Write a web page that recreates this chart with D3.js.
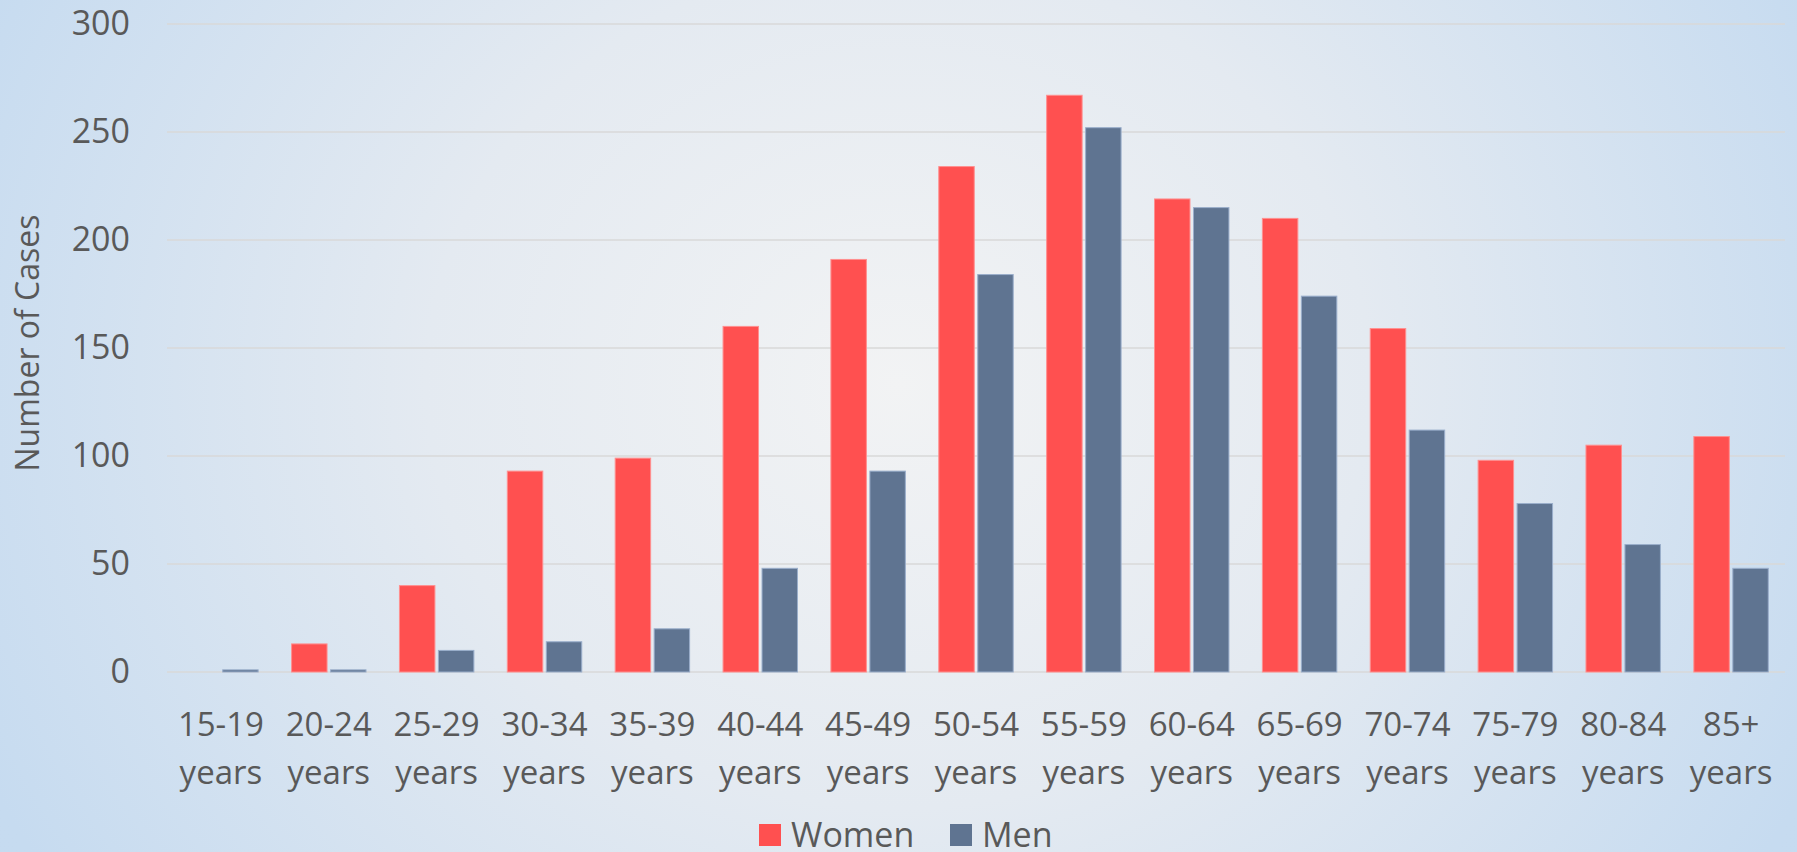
<!DOCTYPE html>
<html>
<head>
<meta charset="utf-8">
<script src="https://cdn.jsdelivr.net/npm/d3@7"></script>
<style>
  html, body { margin: 0; padding: 0; overflow: hidden; }
  svg { display: block; font-family: "Open Sans", "Noto Sans", sans-serif; }
</style>
</head>
<body>
<svg id="chart" width="1797" height="852"></svg>
<script>
// age groups on the x axis
var ageGroups = ["15-19 years", "20-24 years", "25-29 years", "30-34 years", "35-39 years",
    "40-44 years", "45-49 years", "50-54 years", "55-59 years", "60-64 years",
    "65-69 years", "70-74 years", "75-79 years", "80-84 years", "85+ years"];

// number of cases per group
var women = [0, 13, 40, 93, 99, 160, 191, 234, 267, 219, 210, 159, 98, 105, 109];
var men = [1, 1, 10, 14, 20, 48, 93, 184, 252, 215, 174, 112, 78, 59, 48];

var yTicks = [0, 50, 100, 150, 200, 250, 300];
var seriesNames = ["Women", "Men"];
var seriesColors = ["#ff5050", "#5f7491"];
var seriesStroke = ["#ff8f8f", "#9aaecb"];

var W = 1797, H = 852;
var margin = { top: 24, right: 12, bottom: 180, left: 167 };
var plotW = W - margin.left - margin.right;
var plotH = H - margin.top - margin.bottom;

var svg = d3.select("#chart");

// background gradient
var defs = svg.append("defs");
var grad = defs.append("radialGradient")
    .attr("id", "bg")
    .attr("cx", "50%").attr("cy", "45%")
    .attr("r", "75%")
    .attr("gradientTransform", "translate(0.5,0.45) scale(1,1.9) translate(-0.5,-0.45)");
grad.append("stop").attr("offset", "0%").attr("stop-color", "#f2f3f4");
grad.append("stop").attr("offset", "35%").attr("stop-color", "#e4eaf1");
grad.append("stop").attr("offset", "75%").attr("stop-color", "#c6dbf0");
grad.append("stop").attr("offset", "100%").attr("stop-color", "#c4daef");

svg.append("rect")
    .attr("width", W).attr("height", H)
    .attr("fill", "url(#bg)");

var g = svg.append("g")
    .attr("transform", "translate(" + margin.left + "," + margin.top + ")");

var x = d3.scaleBand()
    .domain(ageGroups)
    .range([0, plotW])
    .paddingInner(0.31)
    .paddingOuter(0.155);

var xInner = d3.scaleBand()
    .domain(seriesNames)
    .range([0, x.bandwidth()])
    .paddingInner(0.09);

var y = d3.scaleLinear()
    .domain([0, 300])
    .range([plotH, 0]);

// gridlines
g.append("g")
    .selectAll("line")
    .data(yTicks)
    .enter().append("line")
    .attr("x1", 0).attr("x2", plotW)
    .attr("y1", function(d) { return y(d); })
    .attr("y2", function(d) { return y(d); })
    .style("stroke", "#d9d9d9")
    .style("stroke-width", 1.5);

// y tick labels
var yAxis = d3.axisLeft(y).tickValues(yTicks).tickSize(0).tickPadding(37);
var yG = g.append("g").call(yAxis);
yG.select(".domain").remove();
yG.selectAll("text")
    .style("font-size", "34px")
    .style("fill", "#595959")
    .style("font-family", "'Open Sans', sans-serif");

// bars
var groups = g.selectAll(".grp")
    .data(ageGroups)
    .enter().append("g")
    .attr("class", "grp")
    .attr("transform", function(d) { return "translate(" + x(d) + ",0)"; });

groups.selectAll("rect")
    .data(function(d, i) {
        return [
            { key: "Women", value: women[i], idx: 0 },
            { key: "Men", value: men[i], idx: 1 }
        ];
    })
    .enter().append("rect")
    .filter(function(d) { return d.value > 0; })
    .attr("x", function(d) { return xInner(d.key); })
    .attr("y", function(d) { return y(d.value); })
    .attr("width", xInner.bandwidth())
    .attr("height", function(d) { return y(0) - y(d.value); })
    .style("fill", function(d) { return seriesColors[d.idx]; })
    .style("stroke", function(d) { return seriesStroke[d.idx]; })
    .style("stroke-width", 1);

// x labels, two lines
var xLabels = g.append("g")
    .selectAll("text")
    .data(ageGroups)
    .enter().append("text")
    .attr("text-anchor", "middle")
    .attr("transform", function(d) {
        return "translate(" + (x(d) + x.bandwidth() / 2) + "," + (plotH + 64) + ")";
    })
    .style("font-size", "33px")
    .style("fill", "#595959");

xLabels.append("tspan")
    .attr("x", 0).attr("dy", 0)
    .text(function(d) { return d.split(" ")[0]; });
xLabels.append("tspan")
    .attr("x", 0).attr("dy", 48)
    .text(function(d) { return d.split(" ")[1]; });

// y axis title
svg.append("text")
    .attr("transform", "translate(39," + (margin.top + plotH / 2 - 5) + ") rotate(-90)")
    .attr("text-anchor", "middle")
    .style("font-size", "32px")
    .style("fill", "#595959")
    .text("Number of Cases");

// legend
var legend = svg.append("g")
    .attr("transform", "translate(759,824)");
var legendPos = [0, 191];
seriesNames.forEach(function(name, i) {
    var item = legend.append("g")
        .attr("transform", "translate(" + legendPos[i] + ",0)");
    item.append("rect")
        .attr("width", 22).attr("height", 22)
        .style("fill", seriesColors[i]);
    item.append("text")
        .attr("x", 32).attr("y", 23)
        .style("font-size", "34px")
        .style("fill", "#595959")
        .text(name);
});
</script>
</body>
</html>
